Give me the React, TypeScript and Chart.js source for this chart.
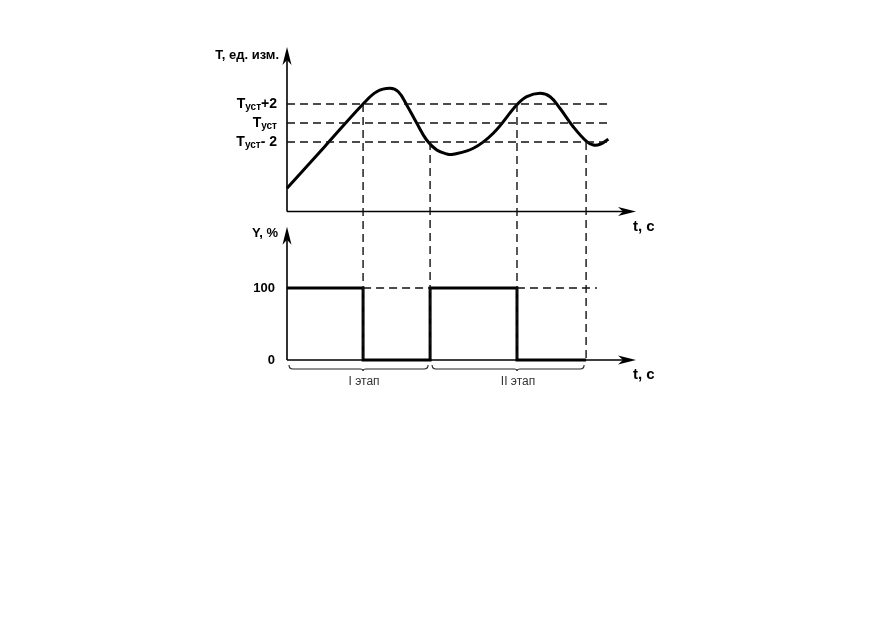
import React, { useEffect, useRef } from "react";
import { Chart, registerables } from "chart.js";
Chart.register(...registerables);

// ---- scale bounds (abstract units) ----
const X_MIN = 0;
const X_MAX = 100;
const T_MIN = -4.95;
const T_MAX = 28;
const Y_MIN = 0;
const Y_MAX = 434.7;
const T_AXIS = 10.68; // level of the upper time axis
const Y_ARROW = 185; // top of the lower vertical axis arrow

// ---- temperature levels ----
const T_LEVELS = [22, 20, 18];
const T_LEVEL_TAILS = ["+2", "", "- 2"];
const T_LEVEL_BASE = "T";
const T_LEVEL_SUB = "уст";
const DASH_END = 92.8;

// ---- temperature curve ----
const CURVE_TIME = [0, 10.9, 21.8, 25.7, 29.5, 31.9, 34.3, 37.2, 40.0, 42.9, 45.8, 47.6, 53.4, 59.1, 65.8, 68.7, 72.5, 75.4, 78.2, 82.0, 85.9, 87.8, 89.7, 92.1];
const CURVE_TEMP = [13.13, 17.56, 22.0, 23.29, 23.65, 23.29, 21.9, 19.97, 18.21, 17.16, 16.74, 16.7, 17.34, 18.92, 21.89, 22.77, 23.13, 22.77, 21.55, 19.61, 18.03, 17.68, 17.76, 18.28];

// ---- switching moments ----
const SWITCH_TIMES = [21.8, 41.0, 65.9, 85.7];
const SWITCH_LEVELS = [22, 18, 22, 18];

// ---- output Y, % ----
const STEP_TIME = [0, 21.8, 41.0, 65.9, 85.7];
const STEP_VALUE = [100, 0, 100, 0, 0];
const Y_TICKS = [100, 0];
const Y_DASH_SEGMENTS = [[21.8, 41.0], [65.9, 88.8]];

// ---- stages ----
const STAGE_LABELS = ["I этап", "II этап"];
const STAGE_FROM = [0, 41.0];
const STAGE_MID = [21.8, 65.9];
const STAGE_TO = [41.0, 85.7];

const AXIS_T_LABEL = "T, ед. изм.";
const AXIS_Y_LABEL = "Y, %";
const AXIS_X_LABEL = "t, c";

const FONT = '"Liberation Sans", Arial, sans-serif';
const DASH = [8, 5];
const DASH_COLOR = "#111";

function arrow(ctx: CanvasRenderingContext2D, x: number, y: number, dir: "up" | "right") {
  const L = 18, W = 4.5, N = 13;
  ctx.save();
  ctx.translate(x, y);
  if (dir === "right") ctx.rotate(Math.PI / 2);
  ctx.beginPath();
  ctx.moveTo(0, 0);
  ctx.lineTo(W, L);
  ctx.lineTo(0, N);
  ctx.lineTo(-W, L);
  ctx.closePath();
  ctx.fillStyle = "#000";
  ctx.fill();
  ctx.restore();
}

function brace(ctx: CanvasRenderingContext2D, x0: number, xm: number, x1: number, y: number) {
  ctx.beginPath();
  ctx.moveTo(x0, y - 4);
  ctx.quadraticCurveTo(x0, y, x0 + 4, y);
  ctx.lineTo(xm - 3, y);
  ctx.quadraticCurveTo(xm, y, xm, y + 2);
  ctx.quadraticCurveTo(xm, y, xm + 3, y);
  ctx.lineTo(x1 - 4, y);
  ctx.quadraticCurveTo(x1, y, x1, y - 4);
  ctx.stroke();
}

const decorPlugin = {
  id: "decor",
  beforeDatasetsDraw(chart: any) {
    const ctx: CanvasRenderingContext2D = chart.ctx;
    const xs = chart.scales.x;
    const yT = chart.scales.yT;
    const yY = chart.scales.yY;
    const x0 = xs.getPixelForValue(X_MIN);
    const xEnd = xs.getPixelForValue(X_MAX);
    const tAxisY = yT.getPixelForValue(T_AXIS);
    const yAxisY = yY.getPixelForValue(0);
    ctx.save();
    ctx.strokeStyle = "#000";
    ctx.lineWidth = 1.6;
    ctx.beginPath();
    ctx.moveTo(x0, tAxisY);
    ctx.lineTo(x0, yT.getPixelForValue(T_MAX) + 10);
    ctx.moveTo(x0, tAxisY);
    ctx.lineTo(xEnd - 10, tAxisY);
    ctx.moveTo(x0, yAxisY);
    ctx.lineTo(x0, yY.getPixelForValue(Y_ARROW) + 10);
    ctx.moveTo(x0, yAxisY);
    ctx.lineTo(xEnd - 10, yAxisY);
    ctx.stroke();
    arrow(ctx, x0, yT.getPixelForValue(T_MAX), "up");
    arrow(ctx, xEnd, tAxisY, "right");
    arrow(ctx, x0, yY.getPixelForValue(Y_ARROW), "up");
    arrow(ctx, xEnd, yAxisY, "right");
    ctx.restore();
  },
  afterDraw(chart: any) {
    const ctx: CanvasRenderingContext2D = chart.ctx;
    const xs = chart.scales.x;
    const yT = chart.scales.yT;
    const yY = chart.scales.yY;
    const x0 = xs.getPixelForValue(X_MIN);
    const xEnd = xs.getPixelForValue(X_MAX);
    const tAxisY = yT.getPixelForValue(T_AXIS);
    const yAxisY = yY.getPixelForValue(0);
    ctx.save();
    ctx.fillStyle = "#000";
    ctx.textBaseline = "middle";
    ctx.font = `bold 13px ${FONT}`;
    ctx.textAlign = "right";
    ctx.fillText(AXIS_T_LABEL, x0 - 8, yT.getPixelForValue(T_MAX) + 8);
    ctx.fillText(AXIS_Y_LABEL, x0 - 9, yY.getPixelForValue(Y_ARROW) + 7);
    Y_TICKS.forEach((v) => {
      ctx.fillText(String(v), x0 - 12, yY.getPixelForValue(v));
    });
    ctx.font = `bold 15px ${FONT}`;
    ctx.textAlign = "left";
    ctx.fillText(AXIS_X_LABEL, xEnd - 3, tAxisY + 15);
    ctx.fillText(AXIS_X_LABEL, xEnd - 3, yAxisY + 15);
    T_LEVELS.forEach((lv, i) => {
      const py = yT.getPixelForValue(lv);
      const right = x0 - 10;
      ctx.textAlign = "left";
      ctx.font = `bold 14px ${FONT}`;
      const wTail = ctx.measureText(T_LEVEL_TAILS[i]).width;
      const wBase = ctx.measureText(T_LEVEL_BASE).width;
      ctx.font = `bold 10px ${FONT}`;
      const wSub = ctx.measureText(T_LEVEL_SUB).width;
      const total = wBase + wSub + wTail;
      let x = right - total;
      ctx.font = `bold 14px ${FONT}`;
      ctx.fillText(T_LEVEL_BASE, x, py);
      x += wBase;
      ctx.font = `bold 10px ${FONT}`;
      ctx.fillText(T_LEVEL_SUB, x, py + 3);
      x += wSub;
      ctx.font = `bold 14px ${FONT}`;
      ctx.fillText(T_LEVEL_TAILS[i], x, py);
    });
    ctx.strokeStyle = "#222";
    ctx.lineWidth = 1.1;
    ctx.font = `12px ${FONT}`;
    ctx.fillStyle = "#333";
    ctx.textAlign = "center";
    STAGE_LABELS.forEach((lab, i) => {
      const a = xs.getPixelForValue(STAGE_FROM[i]) + 2;
      const m = xs.getPixelForValue(STAGE_MID[i]);
      const b = xs.getPixelForValue(STAGE_TO[i]) - 2;
      brace(ctx, a, m, b, yAxisY + 9);
      ctx.fillText(lab, m + 1, yAxisY + 22);
    });
    ctx.restore();
  },
};

export default function App() {
  const ref = useRef<HTMLCanvasElement>(null);
  useEffect(() => {
    if (!ref.current) return;
    const dashed = (data: { x: number; y: number }[], axis: string) => ({
      data,
      yAxisID: axis,
      borderColor: DASH_COLOR,
      borderWidth: 1.4,
      borderDash: DASH,
      pointRadius: 0,
      tension: 0,
      clip: false as any,
    });
    const datasets: any[] = [];
    T_LEVELS.forEach((lv) => {
      datasets.push(dashed([{ x: X_MIN, y: lv }, { x: DASH_END, y: lv }], "yT"));
    });
    SWITCH_TIMES.forEach((t, i) => {
      datasets.push(dashed([{ x: t, y: SWITCH_LEVELS[i] }, { x: t, y: T_MIN }], "yT"));
    });
    Y_DASH_SEGMENTS.forEach(([a, b]) => {
      datasets.push(dashed([{ x: a, y: 100 }, { x: b, y: 100 }], "yY"));
    });
    datasets.push({
      data: CURVE_TIME.map((t, i) => ({ x: t, y: CURVE_TEMP[i] })),
      yAxisID: "yT",
      borderColor: "#000",
      borderWidth: 3,
      pointRadius: 0,
      tension: 0.4,
      clip: false,
    });
    datasets.push({
      data: STEP_TIME.map((t, i) => ({ x: t, y: STEP_VALUE[i] })),
      yAxisID: "yY",
      borderColor: "#000",
      borderWidth: 3,
      pointRadius: 0,
      stepped: "before",
      clip: false,
    });
    const chart = new Chart(ref.current, {
      type: "line",
      data: { datasets },
      options: {
        animation: false,
        responsive: false,
        events: [],
        layout: { padding: { left: 287, right: 236, top: 47, bottom: 258 } },
        plugins: { legend: { display: false }, tooltip: { enabled: false } },
        scales: {
          x: { type: "linear", min: X_MIN, max: X_MAX, display: false },
          yT: { type: "linear", position: "left", min: T_MIN, max: T_MAX, display: false },
          yY: { type: "linear", position: "left", min: Y_MIN, max: Y_MAX, display: false },
        },
      },
      plugins: [decorPlugin],
    });
    return () => chart.destroy();
  }, []);
  return (
    <div style={{ position: "absolute", left: 0, top: 0, width: 872, height: 618, background: "#fff" }}>
      <canvas ref={ref} width={872} height={618} style={{ display: "block" }} />
    </div>
  );
}
